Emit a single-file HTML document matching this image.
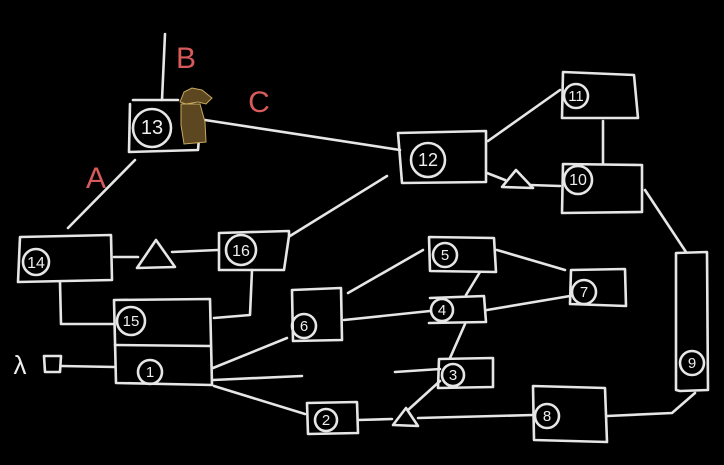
<!DOCTYPE html>
<html><head><meta charset="utf-8"><style>
html,body{margin:0;padding:0;background:#000;width:724px;height:465px;overflow:hidden}
svg{display:block}
</style></head><body>
<svg width="724" height="465" viewBox="0 0 724 465" xmlns="http://www.w3.org/2000/svg">
<rect width="724" height="465" fill="#000"/>
<g fill="none" stroke="#e6e6e6" stroke-width="2.6" stroke-linecap="round" stroke-linejoin="round">
<!-- 13 -->
<path d="M130 104 L129 152 L198 150 L199 138"/>
<path d="M133 100 L178 100"/>
<path d="M162 100 L165 34"/>
<circle cx="152" cy="128" r="19"/>
<path d="M205 120 L400 150"/>
<path d="M135 160 L68 228"/>
<!-- 14 -->
<path d="M20 237 L111 235 L112 280 L18 282 Z"/>
<circle cx="36" cy="262" r="13"/>
<path d="M114 257 L138 257"/>
<path d="M137 268 L175 267 L156 240 Z"/>
<path d="M172 252 L218 250"/>
<!-- 16 -->
<path d="M219 233 L289 231 L289 236 L284 270 L219 270 Z"/>
<circle cx="241" cy="250" r="15"/>
<path d="M290 236 L387 176"/>
<!-- 15/1 -->
<path d="M114 300 L210 299 L212 385 L116 383 Z"/>
<path d="M115 345 L210 346"/>
<circle cx="131" cy="321" r="14"/>
<circle cx="150" cy="372" r="12"/>
<path d="M60 282 L61 324 L113 324"/>
<path d="M252 270 L250 315 L214 318"/>
<path d="M44 356 L61 356 L60 372 L45 372 Z"/>
<path d="M61 366 L115 367"/>
<path d="M213 368 L287 338"/>
<path d="M213 380 L302 376"/>
<path d="M214 386 L305 414"/>
<!-- 6 -->
<path d="M292 290 L341 288 L342 340 L293 341 Z"/>
<circle cx="304" cy="326" r="12"/>
<path d="M348 293 L423 250"/>
<path d="M344 320 L430 311"/>
<!-- 5 -->
<path d="M429 237 L494 238 L496 272 L430 271 Z"/>
<circle cx="445" cy="255" r="12"/>
<!-- 4 -->
<path d="M430 298 L484 296 L486 322 L429 323"/>
<circle cx="442" cy="310" r="11"/>
<path d="M480 272 L466 295"/>
<path d="M465 324 L450 358"/>
<!-- 3 -->
<path d="M439 359 L493 358 L493 387 L438 388 Z"/>
<circle cx="453" cy="375" r="11"/>
<path d="M395 372 L440 369"/>
<path d="M497 250 L565 270"/>
<path d="M487 310 L570 296"/>
<!-- 7 -->
<path d="M571 270 L625 269 L626 306 L570 304 Z"/>
<circle cx="584" cy="292" r="12"/>
<!-- 2 -->
<path d="M307 403 L357 402 L358 433 L308 434 Z"/>
<circle cx="326" cy="420" r="11"/>
<path d="M358 420 L392 419"/>
<path d="M393 425 L406 408 L418 426 Z"/>
<path d="M440 381 L408 410"/>
<path d="M418 418 L533 415"/>
<!-- 8 -->
<path d="M533 386 L605 388 L607 442 L534 440 Z"/>
<circle cx="547" cy="416" r="12"/>
<path d="M607 416 L672 413 L695 393"/>
<!-- 9 -->
<path d="M676 253 L707 252 L708 390 L680 391 L676 390 Z"/>
<circle cx="692" cy="363" r="12"/>
<path d="M645 190 L686 252"/>
<!-- 12 -->
<path d="M398 133 L486 131 L486 182 L402 183 Z"/>
<circle cx="428" cy="160" r="17"/>
<path d="M488 141 L560 90"/>
<!-- 11 -->
<path d="M563 72 L634 75 L638 118 L562 118 Z"/>
<circle cx="576" cy="96" r="12"/>
<path d="M603 121 L603 163"/>
<!-- 10 -->
<path d="M563 164 L642 165 L642 212 L562 213 Z"/>
<circle cx="578" cy="180" r="14"/>
<path d="M487 173 L505 180"/>
<path d="M502 187 L516 170 L533 188 Z"/>
<path d="M530 185 L560 186"/>
</g>
<g font-family="'Liberation Sans',sans-serif" fill="#eee" text-anchor="middle" font-size="15">
<text x="152" y="134" font-size="20">13</text>
<text x="36" y="268" font-size="16">14</text>
<text x="241" y="256" font-size="16">16</text>
<text x="131" y="326">15</text>
<text x="150" y="377">1</text>
<text x="304" y="331">6</text>
<text x="445" y="260">5</text>
<text x="442" y="315">4</text>
<text x="453" y="380">3</text>
<text x="584" y="297">7</text>
<text x="326" y="425">2</text>
<text x="547" y="421">8</text>
<text x="692" y="368">9</text>
<text x="428" y="166" font-size="18">12</text>
<text x="576" y="101">11</text>
<text x="578" y="185" font-size="16">10</text>
<text x="20" y="374" font-size="26">λ</text>
</g>
<g font-family="'Liberation Sans',sans-serif" fill="#d85a5a" font-size="30" text-anchor="middle">
<text x="186" y="68">B</text>
<text x="259" y="112">C</text>
<text x="96" y="188">A</text>
</g>
<!-- character -->
<g stroke="#c8a860" stroke-width="1" fill="#5c4720">
<path d="M180 102 L184 92 L192 88 L202 90 L212 98 L206 104 L198 102 L186 104 Z"/>
<path d="M181 104 L200 104 L205 122 L206 142 L184 144 L181 125 Z"/>
</g>
</svg>
</body></html>
